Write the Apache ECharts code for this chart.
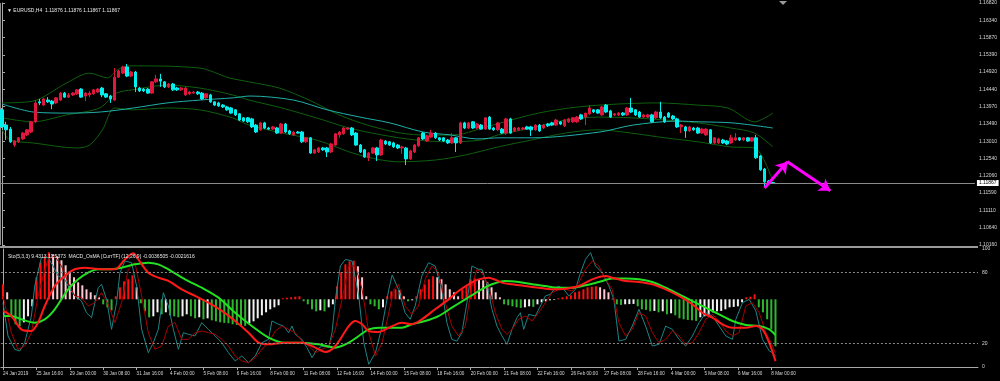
<!DOCTYPE html>
<html><head><meta charset="utf-8">
<script src="https://cdn.jsdelivr.net/npm/echarts@6/dist/echarts.min.js"></script>
<style>html,body{margin:0;padding:0;background:#000;}#c{width:1000px;height:381px;}</style>
</head><body><div id="c"></div>
<script>
// ---------- DATA ----------
const mainTitle = '\u25BC EURUSD,H4  1.11876 1.11876 1.11867 1.11867';
const subTitle = 'Sto(5,3,3) 9.4313 11.5373  MACD_OsMA [CurrTF] (12,26,9) -0.0036505 -0.0021616';
const xLabels = ['24 Jan 2019','25 Jan 16:00','29 Jan 00:00','30 Jan 08:00','31 Jan 16:00','4 Feb 00:00','5 Feb 08:00','6 Feb 16:00','8 Feb 00:00','11 Feb 08:00','12 Feb 16:00','14 Feb 00:00','15 Feb 08:00','18 Feb 16:00','20 Feb 00:00','21 Feb 08:00','22 Feb 16:00','26 Feb 00:00','27 Feb 08:00','28 Feb 16:00','4 Mar 00:00','5 Mar 08:00','6 Mar 16:00','8 Mar 00:00'];
const barsPerLabel = 8;
const slotCount = 234;
const priceTicks = [1.1682,1.1634,1.1587,1.1539,1.1492,1.1444,1.1397,1.1349,1.1301,1.1254,1.1206,1.1159,1.1111,1.1064,1.1016];
const priceMin = 1.1016, priceMax = 1.1682;
const stochTicks = [0,20,80,100];
const stochLevels = [80,20];
const lastPrice = 1.11867;

const opens = [1.1388,1.1346,1.1335,1.1291,1.1300,1.1308,1.1319,1.1327,1.1355,1.1410,
1.1401,1.1415,1.1412,1.1407,1.1415,1.1434,1.1423,1.1429,1.1432,1.1445,
1.1426,1.1429,1.1432,1.1437,1.1448,1.1432,1.1426,1.1415,1.1478,1.1489,
1.1506,1.1481,1.1492,1.1448,1.1445,1.1445,1.1434,1.1465,1.1473,1.1465,
1.1451,1.1459,1.1448,1.1443,1.1429,1.1432,1.1434,1.1437,1.1434,1.1421,
1.1429,1.1410,1.1407,1.1401,1.1396,1.1393,1.1388,1.1377,1.1366,1.1366,
1.1363,1.1346,1.1333,1.1352,1.1338,1.1335,1.1338,1.1324,1.1349,1.1330,
1.1319,1.1327,1.1327,1.1300,1.1311,1.1269,1.1272,1.1283,1.1283,1.1272,
1.1291,1.1319,1.1322,1.1335,1.1338,1.1324,1.1291,1.1278,1.1256,1.1269,
1.1283,1.1264,1.1302,1.1300,1.1297,1.1291,1.1283,1.1283,1.1253,1.1272,
1.1289,1.1324,1.1302,1.1313,1.1324,1.1311,1.1311,1.1305,1.1297,1.1311,
1.1297,1.1352,1.1338,1.1355,1.1338,1.1346,1.1335,1.1368,1.1338,1.1333,
1.1335,1.1324,1.1363,1.1330,1.1333,1.1335,1.1341,1.1341,1.1333,1.1346,
1.1338,1.1349,1.1352,1.1346,1.1355,1.1344,1.1355,1.1355,1.1355,1.1374,
1.1368,1.1377,1.1388,1.1388,1.1374,1.1401,1.1385,1.1374,1.1374,1.1379,
1.1374,1.1393,1.1388,1.1382,1.1368,1.1368,1.1374,1.1366,1.1382,1.1368,
1.1379,1.1371,1.1363,1.1341,1.1341,1.1330,1.1338,1.1338,1.1324,1.1319,
1.1333,1.1297,1.1297,1.1305,1.1302,1.1297,1.1305,1.1311,1.1305,1.1311,
1.1302,1.1311,1.1261,1.1225,1.1192,1.11876];
const closes = [1.1341,1.1333,1.1300,1.1302,1.1311,1.1324,1.1333,1.1355,1.1407,1.1407,
1.1418,1.1410,1.1404,1.1421,1.1434,1.1423,1.1429,1.1434,1.1443,1.1423,
1.1434,1.1434,1.1443,1.1445,1.1429,1.1423,1.1418,1.1478,1.1495,1.1506,
1.1481,1.1492,1.1451,1.1440,1.1440,1.1434,1.1465,1.1473,1.1467,1.1451,
1.1459,1.1443,1.1443,1.1448,1.1448,1.1437,1.1437,1.1432,1.1418,1.1432,
1.1410,1.1401,1.1399,1.1396,1.1388,1.1379,1.1374,1.1360,1.1357,1.1355,
1.1341,1.1327,1.1352,1.1338,1.1335,1.1341,1.1324,1.1349,1.1327,1.1322,
1.1327,1.1324,1.1300,1.1311,1.1269,1.1278,1.1283,1.1278,1.1272,1.1294,
1.1322,1.1327,1.1338,1.1338,1.1319,1.1291,1.1272,1.1258,1.1269,1.1283,
1.1264,1.1305,1.1294,1.1291,1.1286,1.1283,1.1286,1.1253,1.1275,1.1291,
1.1311,1.1308,1.1316,1.1324,1.1311,1.1305,1.1302,1.1297,1.1311,1.1297,
1.1352,1.1338,1.1352,1.1338,1.1349,1.1335,1.1366,1.1335,1.1333,1.1352,
1.1324,1.1363,1.1324,1.1338,1.1338,1.1338,1.1335,1.1333,1.1346,1.1330,
1.1346,1.1344,1.1346,1.1360,1.1349,1.1360,1.1363,1.1366,1.1368,1.1363,
1.1379,1.1393,1.1382,1.1379,1.1396,1.1382,1.1368,1.1377,1.1379,1.1374,
1.1393,1.1382,1.1374,1.1368,1.1374,1.1374,1.1355,1.1382,1.1366,1.1355,
1.1368,1.1363,1.1341,1.1346,1.1330,1.1341,1.1333,1.1324,1.1335,1.1335,
1.1297,1.1311,1.1308,1.1297,1.1294,1.1311,1.1311,1.1305,1.1311,1.1302,
1.1311,1.1256,1.1223,1.1190,1.1187,1.11867];
const lows = [1.1338,1.1305,1.1297,1.1286,1.1297,1.1305,1.1316,1.1324,1.1352,1.1401,
1.1399,1.1407,1.1390,1.1404,1.1412,1.1421,1.1421,1.1426,1.1429,1.1421,
1.1412,1.1423,1.1429,1.1434,1.1423,1.1421,1.1407,1.1412,1.1476,1.1487,
1.1478,1.1478,1.1437,1.1437,1.1437,1.1432,1.1432,1.1462,1.1451,1.1448,
1.1448,1.1440,1.1440,1.1440,1.1426,1.1429,1.1432,1.1429,1.1415,1.1418,
1.1407,1.1399,1.1396,1.1393,1.1385,1.1377,1.1371,1.1357,1.1355,1.1352,
1.1338,1.1324,1.1330,1.1335,1.1333,1.1333,1.1322,1.1322,1.1324,1.1319,
1.1316,1.1322,1.1297,1.1297,1.1267,1.1267,1.1269,1.1275,1.1258,1.1269,
1.1289,1.1311,1.1319,1.1333,1.1316,1.1289,1.1269,1.1256,1.1247,1.1267,
1.1247,1.1261,1.1291,1.1289,1.1283,1.1280,1.1267,1.1236,1.1250,1.1269,
1.1286,1.1305,1.1300,1.1311,1.1308,1.1302,1.1300,1.1294,1.1294,1.1272,
1.1294,1.1335,1.1335,1.1335,1.1335,1.1333,1.1333,1.1333,1.1330,1.1330,
1.1322,1.1319,1.1322,1.1327,1.1330,1.1333,1.1333,1.1316,1.1330,1.1327,
1.1335,1.1341,1.1344,1.1344,1.1346,1.1341,1.1352,1.1352,1.1352,1.1360,
1.1346,1.1374,1.1379,1.1377,1.1371,1.1379,1.1366,1.1371,1.1371,1.1371,
1.1371,1.1379,1.1371,1.1366,1.1366,1.1366,1.1352,1.1363,1.1363,1.1352,
1.1366,1.1360,1.1338,1.1324,1.1311,1.1327,1.1330,1.1322,1.1322,1.1316,
1.1294,1.1294,1.1294,1.1294,1.1291,1.1294,1.1302,1.1302,1.1302,1.1300,
1.1300,1.1253,1.1220,1.1176,1.1181,1.11867];
const highs = [1.1393,1.1355,1.1341,1.1305,1.1313,1.1327,1.1335,1.1357,1.1415,1.1418,
1.1421,1.1423,1.1415,1.1423,1.1437,1.1437,1.1434,1.1437,1.1445,1.1448,
1.1437,1.1440,1.1445,1.1448,1.1451,1.1434,1.1429,1.1503,1.1498,1.1509,
1.1514,1.1495,1.1495,1.1451,1.1448,1.1448,1.1467,1.1484,1.1487,1.1467,
1.1462,1.1462,1.1451,1.1451,1.1451,1.1440,1.1440,1.1440,1.1437,1.1434,
1.1432,1.1412,1.1410,1.1404,1.1399,1.1396,1.1390,1.1379,1.1368,1.1368,
1.1366,1.1349,1.1355,1.1355,1.1341,1.1344,1.1341,1.1352,1.1352,1.1333,
1.1330,1.1330,1.1330,1.1313,1.1313,1.1280,1.1286,1.1286,1.1286,1.1297,
1.1324,1.1330,1.1341,1.1341,1.1341,1.1327,1.1294,1.1280,1.1272,1.1286,
1.1286,1.1308,1.1305,1.1302,1.1300,1.1294,1.1289,1.1286,1.1278,1.1294,
1.1313,1.1327,1.1319,1.1333,1.1327,1.1313,1.1313,1.1308,1.1324,1.1313,
1.1355,1.1355,1.1355,1.1357,1.1352,1.1349,1.1368,1.1371,1.1341,1.1355,
1.1338,1.1366,1.1366,1.1341,1.1341,1.1341,1.1344,1.1344,1.1349,1.1349,
1.1349,1.1352,1.1355,1.1363,1.1357,1.1363,1.1366,1.1368,1.1371,1.1377,
1.1379,1.1401,1.1390,1.1390,1.1399,1.1404,1.1388,1.1379,1.1382,1.1382,
1.1396,1.1421,1.1390,1.1385,1.1377,1.1377,1.1377,1.1385,1.1410,1.1371,
1.1382,1.1374,1.1366,1.1349,1.1344,1.1344,1.1341,1.1341,1.1338,1.1338,
1.1335,1.1313,1.1311,1.1308,1.1305,1.1319,1.1324,1.1313,1.1313,1.1313,
1.1313,1.1319,1.1264,1.1228,1.1195,1.11876];

// indicator lines: [barIndex, value]
const maLong = [[0,1.1404],[7.5,1.1382],[16,1.1379],[23.6,1.1382],[31.5,1.1393],[39.6,1.1407],[47.6,1.1415],[55.5,1.1421],[59.5,1.1426],[69.9,1.1415],[78,1.1388],[85.9,1.1368],[93.1,1.1352],[101,1.1327],[107.5,1.1319],[114,1.1308],[119.5,1.1311],[127.4,1.1311],[143.5,1.1327],[151.4,1.1346],[162,1.1357],[167.5,1.1355],[175.4,1.1352],[185,1.1338]];
const bbUpper = [[0,1.1407],[7.4,1.1412],[15.5,1.1462],[21,1.1489],[25.3,1.1476],[27.7,1.1498],[30.6,1.1509],[47.4,1.1503],[54.5,1.1476],[59.3,1.1465],[66.5,1.1448],[73.7,1.1415],[80.9,1.1374],[88,1.1345],[95.2,1.1325],[102.4,1.1318],[109.6,1.1320],[114.4,1.1335],[119.1,1.1350],[128.7,1.1379],[138.3,1.1396],[147.9,1.1404],[157.4,1.1407],[167,1.1401],[174.2,1.1393],[180.6,1.1355],[185,1.1379]];
const bbMiddle = [[0,1.1366],[7.4,1.1355],[15.5,1.1374],[23.4,1.1393],[27.5,1.1434],[31.3,1.1443],[39.5,1.1456],[47.4,1.1448],[55.3,1.1429],[59.3,1.1415],[67.2,1.1393],[75.4,1.1366],[83.3,1.1338],[91.1,1.1319],[99.3,1.1305],[107.2,1.1300],[115.1,1.1305],[119.1,1.1319],[127.1,1.1338],[135.2,1.1360],[143.1,1.1368],[151,1.1366],[159.1,1.1360],[167,1.1352],[174.9,1.1338],[180.6,1.1324],[185,1.1286]];
const bbLower = [[0,1.1333],[1.9,1.1305],[7.4,1.1297],[17.9,1.1283],[21,1.1291],[24.1,1.1333],[27,1.1393],[31.3,1.1388],[39.5,1.1393],[47.4,1.1388],[55.3,1.1366],[59.3,1.1346],[67.2,1.1324],[75.4,1.1305],[85.6,1.1264],[95.2,1.1245],[104.1,1.1250],[111.3,1.1264],[119.1,1.1286],[127.1,1.1305],[135.2,1.1324],[143.1,1.1333],[151,1.1324],[159.1,1.1311],[167,1.1300],[174.9,1.1286],[180.6,1.1283],[185,1.1190]];
const arrowX = [183.0, 188.5, 198.8];
const arrowY = [1.1173, 1.1245, 1.1165];

const osma = [0.00075,0.00035,-0.0009,-0.00125,-0.00135,-0.00115,-0.00085,-0.00035,0.0011,0.00185,
0.00215,0.00235,0.00225,0.00215,0.00195,0.0017,0.0014,0.0011,0.00085,0.0007,
0.0005,0.00035,0.0002,0.0001,-0.00025,-0.0004,-0.00055,0.00015,0.0006,0.0009,
0.001,0.0012,0.0006,-0.0002,-0.0006,-0.0009,-0.00085,-0.00065,-0.00075,-0.00065,
-0.0008,-0.00085,-0.0009,-0.00085,-0.00075,-0.00085,-0.00095,-0.0009,-0.001,-0.00095,
-0.00105,-0.0011,-0.00115,-0.00118,-0.0012,-0.00125,-0.00128,-0.0013,-0.00133,-0.0012,
-0.0011,-0.00095,-0.0008,-0.00065,-0.0005,-0.0004,-0.0003,0.00005,0.00008,0.0001,
0.00013,0.00015,-0.0001,-0.00025,-0.0005,-0.0006,-0.00055,-0.0006,-0.0004,-0.00025,
0.00065,0.00135,0.00175,0.0019,0.00193,0.00165,0.0011,0.00015,-0.00025,-0.00035,
-0.0005,-0.0004,0.00015,0.0004,0.0005,0.00045,0.00015,-0.0001,-0.00005,0.00015,
0.0005,0.00075,0.001,0.00115,0.0011,0.001,0.00075,0.0005,0.00035,0.00015,
0.0005,0.00065,0.001,0.00105,0.001,0.00095,0.00085,0.0006,0.00035,0.0001,
-0.00025,-0.0003,-0.00035,-0.0004,-0.00043,-0.0004,-0.00035,-0.00038,-0.00025,-0.00015,
-0.0001,-0.00005,-0.00003,0.00005,0.0001,0.00015,0.0002,0.00035,0.0004,0.0005,
0.0006,0.00063,0.00065,0.0006,0.0005,0.00035,0.00003,-0.00025,-0.00028,-0.00025,
-0.00024,-0.00023,-0.00035,-0.0005,-0.00053,-0.0006,-0.00058,-0.00065,-0.0006,-0.00075,
-0.0007,-0.0008,-0.00095,-0.001,-0.00103,-0.00105,-0.00108,-0.0009,-0.00085,-0.00083,
-0.00065,-0.0006,-0.00058,-0.0005,-0.0004,-0.00038,-0.00035,-0.00015,0.0001,0.00013,
0.00025,-0.0004,-0.00065,-0.001,-0.0015,-0.00235];

const stochMain = [[0,54.5],[1.2,26.3],[2.8,15],[4,13.6],[5.2,20.6],[6.8,43.2],[7.6,68.6],[9.2,92.7],[10.8,92.7],[12,85.6],[13.2,77.1],[14.8,74.3],[16,65.8],[17.2,60.2],[18.8,55.9],[20,46],[21.2,41.8],[22.8,67.2],[23.6,70.1],[24.8,57.3],[26,31.9],[27.2,54.5],[28,79.9],[29.2,89.8],[30.8,88.4],[32,68.6],[33.2,31.9],[34.8,12.1],[36,20.6],[37.2,31.9],[38.4,63],[39.6,51.7],[40.8,31.9],[42,15],[43.2,29.1],[44.4,27.7],[46,26.3],[47.6,37.6],[49.2,31.9],[50.8,26.3],[52.4,20.6],[54,12.1],[55.6,5.1],[57.2,9.3],[58.8,3.7],[60.4,9.3],[62,20.6],[63.6,23.4],[64.4,39],[66,36.2],[67.2,34.7],[68.4,29.1],[69.2,34.7],[70,27.7],[71.6,23.4],[72.8,16.4],[74,7.9],[75.2,15],[76.4,17.8],[78,16.4],[78.8,29.1],[79.6,57.3],[80.8,85.6],[82,91.2],[83.6,89.8],[85.2,60.2],[86.4,20.6],[87.6,2.3],[89.2,12.1],[90.8,34.7],[92.4,65.8],[93.2,78],[94.7,65.8],[96.3,46],[97.5,40.4],[98.7,51.7],[100.3,77.1],[101.9,88.4],[103.5,85.6],[105.1,65.8],[106.3,37.6],[107.5,23.4],[108.7,22],[109.9,29.1],[111.1,54.5],[112.3,85.6],[113.9,82.8],[114.7,82.8],[115.9,70.1],[117.1,48.9],[118.3,34.7],[119.5,26.3],[120.7,19.2],[121.9,31.9],[123.1,41.8],[123.9,46],[124.7,31.9],[125.9,44.6],[127.5,43.2],[128.7,51.7],[129.9,60.2],[131.1,61.6],[132.3,67.2],[133.1,68.6],[134.3,65.8],[135.5,60.2],[137.1,65.8],[138.3,79.9],[139.5,91.2],[140.7,96.9],[141.9,85.6],[143.5,79.9],[145.1,68.6],[146.3,57.3],[147.5,22],[149.1,23.4],[150.7,34.7],[152.3,48.9],[153.9,34.7],[155.5,17.8],[157.1,19.2],[158.7,34.7],[160.3,31.9],[161.9,23.4],[163.5,17.8],[165.1,26.3],[166.7,37.6],[168.3,46],[169.9,43.2],[171.5,34.7],[173.1,26.3],[174.7,23.4],[175.5,40.4],[177.1,54.5],[178.7,57.3],[180.3,47.5],[181.9,23.4],[183.5,13.6],[184.3,12.1],[185,9.43]];
const stochSignal = [[0,60],[2,29.1],[3.6,15],[5.2,17.8],[6.8,29.1],[8.4,60.2],[9.6,77.1],[10.8,91.2],[12.4,94.1],[14,85.6],[15.6,71.5],[17.2,60.2],[18.8,58.8],[20.4,51.7],[22,54.5],[23.6,63],[25.2,53.1],[26.8,37.6],[28.4,54.5],[30,82.8],[31.6,88.4],[33.2,60.2],[34.8,29.1],[36.4,15],[38,17.8],[39.6,34.7],[41.2,37.6],[42.8,23.4],[44.4,23.4],[46,29.1],[47.6,30.5],[49.2,29.1],[50.8,27.7],[52.4,23.4],[54,17.8],[55.6,9.3],[57.2,5.1],[58.8,3.7],[60.4,7.9],[62,15],[63.6,20.6],[65.2,30.5],[66.8,34.7],[68.4,31.9],[70,29.1],[71.6,22],[73.2,17.8],[74.8,12.1],[76.4,15],[78,17.8],[79.6,31.9],[81.2,57.3],[82.8,85.6],[84.4,85.6],[86,65.8],[87.6,29.1],[89.2,9.3],[90.8,20.6],[92.4,46],[93.5,65],[94.7,70.1],[96.3,51.7],[97.9,44.6],[99.5,51.7],[101.1,74.3],[102.7,85.6],[104.3,79.9],[105.9,54.5],[107.5,34.7],[109.1,26.3],[110.7,34.7],[112.3,68.6],[113.5,82.8],[114.7,79.9],[116.3,68.6],[117.9,46],[119.5,31.9],[120.7,27.7],[121.9,31.9],[123.5,40.4],[125.1,43.2],[126.7,39],[128.3,46],[129.9,54.5],[131.5,63],[133.1,65.8],[134.7,65.8],[136.3,64.4],[137.9,71.5],[139.5,82.8],[141.1,89.8],[142.7,85.6],[144.3,74.3],[145.9,65.8],[147.5,37.6],[149.1,26.3],[150.7,31.9],[152.3,46],[153.9,43.2],[155.5,29.1],[157.1,20.6],[158.7,23.4],[160.3,30.5],[161.9,26.3],[163.5,19.2],[165.1,20.6],[166.7,29.1],[168.3,40.4],[169.9,44.6],[171.5,39],[173.1,30.5],[174.7,26.3],[176.3,29.1],[177.9,51.7],[179.5,54.5],[181.1,46],[182.7,29.1],[184.3,17.8],[185,11.54]];
const fastAvg = [[0,47.5],[2,43.2],[4.4,31.9],[6.8,30.5],[8.4,37.6],[10,51.7],[12.4,68.6],[14.8,77.1],[17.2,82.8],[19.6,84.2],[22,83.3],[24.4,82.8],[26.8,82.8],[29.2,91.2],[31.2,96.3],[32.4,91.2],[34.8,79.9],[37.2,75.7],[39.6,72.9],[42.8,65.8],[46,60.2],[49.2,54.5],[52.4,47.5],[55.6,39],[58.8,29.1],[61.2,20.6],[63.6,19.2],[67.6,20.6],[71.6,20.6],[74.8,16.4],[77.2,12.7],[79.6,17.8],[82.8,34.7],[84.4,39],[86,36.2],[87.6,30.5],[90,29.7],[92.4,33.3],[95.5,37.6],[97.9,36.2],[100.3,40.4],[103.5,48.9],[106.7,57.3],[109.1,64.4],[111.5,70.1],[113.9,74.3],[116.3,75.7],[119.5,71.5],[121.9,70.1],[125.1,68.6],[128.3,67.2],[131.5,65.8],[134.7,66.4],[137.9,68.6],[141.1,74.3],[144.3,77.1],[145.9,75.7],[149.1,72.9],[152.3,72],[155.5,70.1],[158.7,65.8],[161.9,60.2],[165.1,53.1],[167.5,46],[169.9,41.8],[172.3,36.2],[174.7,33.3],[177.9,33.3],[180.3,34.7],[181.9,31.9],[183.5,20.6],[185,5]];
const slowAvg = [[0,43.2],[2,43.2],[4.4,40.4],[7.6,37.6],[10,40.4],[12.4,48.9],[15.6,65.8],[18,74.3],[20.4,79.9],[22.8,82.8],[25.2,82.8],[28.4,84.2],[31.6,87],[34.8,88.4],[37.2,87],[39.6,82.8],[43.6,74.3],[47.6,67.2],[51.6,58.8],[55.6,46],[59.6,34.7],[63.6,24.9],[67.6,20.6],[71.6,20.6],[75.6,19.2],[79.6,16.4],[82.8,20.6],[85.2,26.3],[87.6,31.9],[90,33.3],[92.4,33.3],[95.5,33.3],[97.9,36.2],[101.1,39],[104.3,43.2],[107.5,50.3],[110.7,57.3],[113.9,64.4],[117.1,70.1],[120.3,72.9],[123.5,72],[126.7,70.1],[129.9,68.6],[133.1,67.2],[136.3,67.2],[139.5,69.2],[142.7,72],[145.9,74.9],[149.1,75.1],[152.3,74.3],[155.5,72],[158.7,67.2],[161.9,61.6],[165.1,55.9],[168.3,50.3],[171.5,44.6],[174.7,39],[177.9,35.6],[181.1,34.7],[183.5,31.9],[185,27]];

// ---------- BUILD ----------
const candles = opens.map((o, i) => [o, closes[i], lows[i], highs[i]]);
const categories = Array.from({length: slotCount}, (_, i) =>
  (i % barsPerLabel === 0 && i / barsPerLabel < xLabels.length) ? xLabels[i / barsPerLabel] : '');
const showLbl = (idx, val) => val !== '';
const FONT = 'Liberation Sans';
const TXT = '#d8d8d8';
const AX = '#a8a8a8';

const histColors = osma.map((v, i) => {
  const p = i > 0 ? osma[i - 1] : v;
  if (v >= 0) return v >= p ? '#ff1010' : '#ffc8d0';
  return v <= p ? '#2fb52f' : '#f2f2f2';
});

const mainTop = 3, mainH = 242, subTop = 249, subH = 118;
const histMax = 0.002515, histMin = -0.003385;

const option = {
  backgroundColor: '#000',
  animation: false,
  title: [
    {text: mainTitle, left: 2, top: 3, textStyle: {fontSize: 5, color: '#e8e8e8', fontWeight: 'normal', fontFamily: FONT}},
    {text: subTitle, left: 3, top: 249, textStyle: {fontSize: 5, color: '#e8e8e8', fontWeight: 'normal', fontFamily: FONT}}
  ],
  grid: [
    {left: 0, right: 22, top: mainTop, height: mainH},
    {left: 0, right: 22, top: subTop, height: subH}
  ],
  xAxis: [
    {type: 'category', gridIndex: 0, data: categories, boundaryGap: true, show: false},
    {type: 'value', gridIndex: 0, min: -0.5, max: slotCount - 0.5, show: false},
    {type: 'category', gridIndex: 1, data: categories, boundaryGap: true, position: 'bottom', offset: 2,
     axisLine: {show: true, lineStyle: {color: AX, width: 1}},
     axisTick: {show: true, alignWithLabel: true, interval: showLbl, length: 3, lineStyle: {color: AX}},
     axisLabel: {show: true, interval: showLbl, align: 'left', margin: 2, fontSize: 4.6, color: TXT, fontFamily: FONT},
     splitLine: {show: false}},
    {type: 'value', gridIndex: 1, min: -0.5, max: slotCount - 0.5, show: false}
  ],
  yAxis: [
    {type: 'value', gridIndex: 0, position: 'right', min: priceMin, max: priceMax, scale: true,
     axisLine: {show: true, lineStyle: {color: AX}},
     axisTick: {show: true, length: 3, customValues: priceTicks, lineStyle: {color: AX}},
     axisLabel: {show: true, customValues: priceTicks, margin: 4, fontSize: 5, color: TXT, fontFamily: FONT,
                 formatter: v => v.toFixed(5)},
     splitLine: {show: false}},
    {type: 'value', gridIndex: 1, position: 'right', min: 0, max: 100,
     axisLine: {show: true, lineStyle: {color: AX}},
     axisTick: {show: false},
     axisLabel: {show: true, customValues: stochTicks, margin: 4, fontSize: 5, color: TXT, fontFamily: FONT},
     splitLine: {show: false}},
    {type: 'value', gridIndex: 1, min: histMin, max: histMax, show: false}
  ],
  series: [
    {type: 'bar', xAxisIndex: 2, yAxisIndex: 2, barWidth: 2, z: 1,
     data: osma.map((v, i) => ({value: v, itemStyle: {color: histColors[i]}}))},
    {type: 'candlestick', xAxisIndex: 0, yAxisIndex: 0, barWidth: 3, z: 3, data: candles,
     itemStyle: {color: '#e0173e', color0: '#00f0f0', borderColor: '#e0173e', borderColor0: '#00f0f0', borderWidth: 1},
     markLine: {silent: true, symbol: 'none', animation: false, precision: 5,
       lineStyle: {color: '#8a8a8a', width: 1, type: 'solid'},
       label: {show: true, position: 'end', distance: 2, formatter: () => lastPrice.toFixed(5),
               backgroundColor: '#ffffff', color: '#000', fontSize: 5, padding: [1, 2, 0, 2], fontFamily: FONT},
       data: [{yAxis: lastPrice}]}},
    {type: 'line', xAxisIndex: 1, yAxisIndex: 0, data: bbUpper, smooth: 0.3, symbol: 'none', z: 2,
     lineStyle: {color: '#0e600e', width: 1}},
    {type: 'line', xAxisIndex: 1, yAxisIndex: 0, data: bbMiddle, smooth: 0.3, symbol: 'none', z: 2,
     lineStyle: {color: '#0e600e', width: 1}},
    {type: 'line', xAxisIndex: 1, yAxisIndex: 0, data: bbLower, smooth: 0.3, symbol: 'none', z: 2,
     lineStyle: {color: '#0e600e', width: 1}},
    {type: 'line', xAxisIndex: 1, yAxisIndex: 0, data: maLong, smooth: 0.3, symbol: 'none', z: 2,
     lineStyle: {color: '#20b0aa', width: 1},
     markLine: {silent: true, animation: false, precision: 5, symbol: ['none', 'arrow'], symbolSize: 11,
       lineStyle: {color: '#ff00ff', width: 3, type: 'solid'}, label: {show: false},
       data: [
         [{coord: [arrowX[0], arrowY[0]]}, {coord: [arrowX[1], arrowY[1]]}],
         [{coord: [arrowX[1], arrowY[1]]}, {coord: [arrowX[2], arrowY[2]]}]
       ]}},
    {type: 'line', xAxisIndex: 3, yAxisIndex: 1, data: stochMain, symbol: 'none', z: 3,
     lineStyle: {color: '#1d8585', width: 1},
     markLine: {silent: true, symbol: 'none', animation: false, precision: 5, label: {show: false},
       lineStyle: {color: '#8a8a8a', width: 1, type: [2, 2]},
       data: stochLevels.map(v => ({yAxis: v}))}},
    {type: 'line', xAxisIndex: 3, yAxisIndex: 1, data: stochSignal, symbol: 'none', z: 3,
     lineStyle: {color: '#a80000', width: 1}},
    {type: 'line', xAxisIndex: 3, yAxisIndex: 1, data: slowAvg, smooth: 0.3, symbol: 'none', z: 4,
     lineStyle: {color: '#22e022', width: 2}},
    {type: 'line', xAxisIndex: 3, yAxisIndex: 1, data: fastAvg, smooth: 0.3, symbol: 'none', z: 4,
     lineStyle: {color: '#ff1a1a', width: 2}}
  ],
  graphic: [
    {type: 'rect', shape: {x: 0, y: 246, width: 978, height: 2}, style: {fill: '#9a9a9a'}, silent: true},
    {type: 'rect', shape: {x: 0, y: 3, width: 1, height: 242}, style: {fill: '#8c8c8c'}, silent: true},
    {type: 'polygon', shape: {points: [[779, 1], [787, 1], [783, 5]]}, style: {fill: '#9a9a9a'}, silent: true}
  ]
};

const chart = echarts.init(document.getElementById('c'), null, {renderer: 'canvas'});
chart.setOption(option);
</script></body></html>
